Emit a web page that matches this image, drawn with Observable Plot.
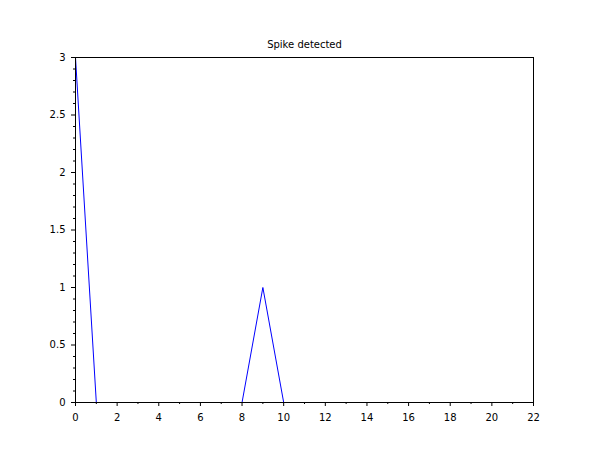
<!DOCTYPE html>
<html>
<head>
<meta charset="utf-8">
<script src="https://cdn.jsdelivr.net/npm/d3@7"></script>
<script src="https://cdn.jsdelivr.net/npm/@observablehq/plot@0.6"></script>
<style>
  html, body { margin: 0; padding: 0; background: #fff; }
  #chart svg { display: block; }
</style>
</head>
<body>
<div id="chart"></div>
<script>
const title = "Spike detected";
const xs = [0, 1, 2, 3, 4, 5, 6, 7, 8, 9, 10];
const ys = [3, 0, 0, 0, 0, 0, 0, 0, 0, 1, 0];
const xMajor = [0, 2, 4, 6, 8, 10, 12, 14, 16, 18, 20, 22];
const xMinor = [1, 3, 5, 7, 9, 11, 13, 15, 17, 19, 21];
const yMajor = [0, 0.5, 1, 1.5, 2, 2.5, 3];
const yMinor = d3.range(0, 31).map(i => i / 10).filter(v => Math.abs(v * 2 - Math.round(v * 2)) > 1e-9);

const data = xs.map((x, i) => ({x, y: ys[i]}));

const chart = Plot.plot({
  width: 610,
  height: 460,
  marginLeft: 75,
  marginRight: 77,
  marginTop: 57,
  marginBottom: 58,
  style: {fontFamily: "DejaVu Sans", fontSize: "10px", color: "#000", background: "#fff"},
  x: {domain: [0, 22]},
  y: {domain: [0, 3]},
  marks: [
    Plot.line(data, {x: "x", y: "y", stroke: "#0000ff", strokeWidth: 1}),
    Plot.axisX({ticks: xMinor, tickSize: 2, text: null, label: null, stroke: "#000"}),
    Plot.axisX({ticks: xMajor, tickSize: 4, tickPadding: 7, label: null, tickFormat: d => String(d), stroke: "#000", fill: "#000"}),
    Plot.axisY({ticks: yMinor, tickSize: 2, text: null, label: null, stroke: "#000"}),
    Plot.axisY({ticks: yMajor, tickSize: 4, tickPadding: 6, label: null, tickFormat: d => String(d), stroke: "#000", fill: "#000"}),
    Plot.frame({stroke: "#000", strokeWidth: 1}),
    Plot.text([title], {frameAnchor: "top", dy: -17, text: d => d, fontSize: 10, fill: "#000"})
  ]
});
document.getElementById("chart").appendChild(chart);
</script>
</body>
</html>
